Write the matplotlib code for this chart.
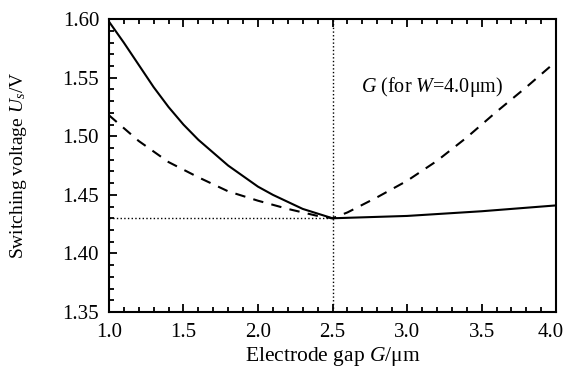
import matplotlib
matplotlib.use("Agg")
import matplotlib.pyplot as plt
from matplotlib.ticker import MultipleLocator, FuncFormatter


plt.rcParams["font.family"] = "Liberation Serif"
plt.rcParams["mathtext.fontset"] = "custom"
plt.rcParams["mathtext.rm"] = "Liberation Serif"
plt.rcParams["mathtext.it"] = "Liberation Serif:italic"

# solid curve (switching voltage vs. gap)
solid_gap = [1.0, 1.1, 1.2, 1.3, 1.4, 1.5, 1.6, 1.7, 1.8, 1.9, 2.0, 2.1, 2.2, 2.3, 2.4, 2.5,
             3.0, 3.5, 4.0]
solid_volt = [1.598, 1.580, 1.561, 1.542, 1.525, 1.510, 1.497, 1.486, 1.475, 1.466, 1.457,
              1.450, 1.444, 1.438, 1.434, 1.430, 1.432, 1.436, 1.441]

# dashed curve
dash_gap = [1.0, 1.2, 1.4, 1.6, 1.8, 2.0, 2.2, 2.4, 2.5, 2.6, 2.8, 3.0, 3.2, 3.4, 3.6, 3.8, 4.0]
dash_volt = [1.518, 1.496, 1.478, 1.465, 1.453, 1.445, 1.438, 1.432, 1.430, 1.435, 1.448,
             1.462, 1.479, 1.499, 1.521, 1.542, 1.564]

opt_gap = 2.5
opt_volt = 1.430
x_max = 4.0

fig = plt.figure(figsize=(5.67, 3.75), dpi=100)
ax = fig.add_axes([0.192, 0.168, 0.789, 0.781])

ax.plot(solid_gap, solid_volt, "-k", lw=1.5)
ax.plot(dash_gap, dash_volt, "--k", lw=1.5, dashes=(5, 4))
ax.plot([1.0, opt_gap], [opt_volt, opt_volt], ":k", lw=1.0)
ax.plot([opt_gap, opt_gap], [1.35, 1.60], ":k", lw=1.0)

ax.text(3.17, 1.542, r"$G$ (for $W$=4.0μm)", fontsize=14.5, ha="center", va="center")

ax.set_xlim(1.0, x_max)
ax.set_ylim(1.35, 1.60)
ax.xaxis.set_major_locator(MultipleLocator(0.5))
ax.xaxis.set_minor_locator(MultipleLocator(0.1))
ax.yaxis.set_major_locator(MultipleLocator(0.05))
ax.yaxis.set_minor_locator(MultipleLocator(0.01))
# the last x label is drawn separately, nudged left so it stays on the page
ax.xaxis.set_major_formatter(FuncFormatter(lambda v, p: "" if abs(v - x_max) < 1e-9 else f"{v:.1f}"))
ax.yaxis.set_major_formatter(plt.FormatStrFormatter("%.2f"))

ax.tick_params(which="both", direction="in", top=True, right=False, labelsize=15, width=1.3)
ax.tick_params(which="major", length=6)
ax.tick_params(which="minor", length=3.5)
ax.tick_params(axis="x", which="major", pad=8)
ax.tick_params(axis="y", which="major", pad=7)
for sp in ax.spines.values():
    sp.set_linewidth(1.5)

ax.annotate(f"{x_max:.1f}", xy=(x_max, 0), xycoords=ax.get_xaxis_transform(),
            xytext=(-4, -8), textcoords="offset points", ha="center", va="top", fontsize=15)

ax.set_xlabel(r"Electrode gap $G$/μm", fontsize=15.5, labelpad=2)
ax.set_ylabel(r"Switching voltage $U_s$/V", fontsize=14, labelpad=24)

fig.savefig("out.png", dpi=100)
